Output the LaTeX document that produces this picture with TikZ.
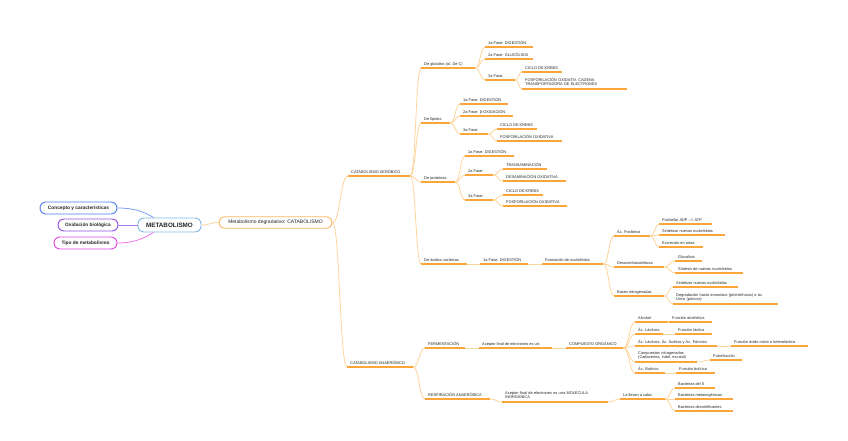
\documentclass[tikz,border=0pt]{standalone}
\usepackage{fontspec}
\setmainfont{Liberation Sans}
\usetikzlibrary{calc}
\definecolor{ulc}{HTML}{FBA53A}
\definecolor{cnc}{HTML}{FDD49A}
\definecolor{txt}{HTML}{262626}
\definecolor{bluec}{HTML}{4F7CF2}
\definecolor{purc}{HTML}{8E4FE6}
\definecolor{magc}{HTML}{E545E5}
\definecolor{rootc}{HTML}{7FB9E6}
\definecolor{catc}{HTML}{FDB65E}
\newcommand\lf{\fontsize{3.9}{4.7}\selectfont}
\tikzset{
 tp/.style={font=\lf, text=txt, anchor=south west, inner xsep=3pt, inner ysep=1.5pt, text depth=1pt},
 ml/.style={align=left, text width=#1pt, text depth=6.2pt},
 wd/.style={execute at begin node={\hbox to \dimexpr#1pt-6pt\relax\bgroup}, execute at end node={\hfil\egroup}},
 uline/.style={draw=ulc, line width=1.1pt},
 conn/.style={draw=cnc, line width=0.8pt, to path={let \p1=(\tikztostart), \p2=(\tikztotarget) in .. controls ({(\x1+\x2)/2},\y1) and ({(\x1+\x2)/2},\y2) .. (\tikztotarget)}},
 pill/.style={draw, line width=0.9pt, fill=white, rounded corners=6pt, text=txt, inner sep=0pt, align=center},
 lnode/.style={pill, minimum height=12pt, font=\fontsize{4.8}{5.5}\selectfont\bfseries},
}
\begin{document}
\begin{tikzpicture}[x=1pt,y=-1pt]
\useasboundingbox (0,0) rectangle (848,440);
% main pills
\node[pill, draw=rootc, minimum width=63pt, minimum height=14pt, font=\fontsize{6.3}{7}\selectfont\bfseries] (root) at (169.5,225) {METABOLISMO};
\node[lnode, draw=bluec, minimum width=77pt] (c1) at (78.5,208) {Concepto y características};
\node[lnode, draw=purc, minimum width=60pt] (c2) at (88,225) {Oxidación biológica};
\node[lnode, draw=magc, minimum width=63pt] (c3) at (85.5,243) {Tipo de metabolismo};
\node[pill, draw=catc, minimum width=113pt, minimum height=11.5pt, font=\fontsize{5}{6}\selectfont] (cat) at (275.5,222.5) {Metabolismo degradativo: CATABOLISMO};
% level B/C
\node[tp,wd=62] (aer) at (348,176) {CATABOLISMO AERÓBICO};
\node[tp,wd=66] (ana) at (347,367) {CATABOLISMO ANAERÓBICO};
\node[tp,wd=54] (glu) at (421,68) {De glúcidos (al. De C)};
\node[tp,wd=29] (lip) at (421,123) {De lípidos};
\node[tp,wd=34] (pro) at (421,182) {De proteínas};
\node[tp,wd=46] (nuc) at (421,264) {De ácidos nucleicos};
% glucidos
\node[tp,wd=48] (g1) at (485,47) {1a Fase: DIGESTIÓN};
\node[tp,wd=48] (g2) at (485,59) {2a Fase: GLUCÓLISIS};
\node[tp,wd=30] (g3) at (485,80) {3a Fase:};
\node[tp,wd=40] (g31) at (522,72) {CICLO DE KREBS};
\node[tp,ml=99] (g32) at (522,89) {FOSFORILACIÓN OXIDATIV. CADENA\\TRANSPORTADORA DE ELECTRONES};
% lipidos
\node[tp,wd=48] (l1) at (460,104) {1a Fase: DIGESTIÓN};
\node[tp,wd=53] (l2) at (460,116) {2a Fase: β-OXIDACIÓN};
\node[tp,wd=28] (l3) at (460,134) {3a Fase:};
\node[tp,wd=40] (l31) at (497,129) {CICLO DE KREBS};
\node[tp,wd=65] (l32) at (497,141) {FOSFORILACIÓN OXIDATIVA};
% proteinas
\node[tp,wd=49] (p1) at (465,156) {1a Fase: DIGESTIÓN};
\node[tp,wd=28] (p2) at (465,175) {2a Fase:};
\node[tp,wd=44] (p21) at (503,169) {TRANSAMINACIÓN};
\node[tp,wd=63] (p22) at (503,181) {DESAMINACIÓN OXIDATIVA};
\node[tp,wd=28] (p3) at (465,200) {3a Fase:};
\node[tp,wd=40] (p31) at (503,195) {CICLO DE KREBS};
\node[tp,wd=64] (p32) at (503,206) {FOSFORILACIÓN OXIDATIVA};
% nucleicos
\node[tp,wd=48] (n1) at (480,264) {1a Fase: DIGESTIÓN};
\node[tp,wd=61] (n2) at (542,264) {Formación de nucleótidos};
\node[tp,wd=36] (nA) at (614,236) {Ác. Fosfórico};
\node[tp,wd=53] (nA1) at (659,224) {Fosforilar ADP -{}-> ATP};
\node[tp,wd=66] (nA2) at (659,235) {Sintetizar nuevos nucleótidos};
\node[tp,wd=44] (nA3) at (659,247) {Excreción en orina};
\node[tp,wd=50] (nB) at (614,267) {Desoxirribosa/ribosa};
\node[tp,wd=27] (nB1) at (675,261) {Glucolisis};
\node[tp,wd=68] (nB2) at (675,273) {Síntesis de nuevos nucleótidos};
\node[tp,wd=50] (nC) at (614,296) {Bases nitrogenadas};
\node[tp,wd=65] (nC1) at (673,287) {Sintetizar nuevos nucleótidos};
\node[tp,ml=99] (nC2) at (673,304) {Degradación hasta amoníaco (pirimidínicas) o ác.\\Úrico (púricos)};
% fermentacion
\node[tp,wd=40] (fer) at (425,348) {FERMENTACIÓN};
\node[tp,wd=73] (fer1) at (479,348) {Aceptor final de electrones es un:};
\node[tp,wd=57] (fer2) at (566,348) {COMPUESTO ORGÁNICO};
\node[tp,wd=33] (f1) at (635,322) {Alcohol};
\node[tp,wd=43] (f1a) at (669,322) {Función alcohólica};
\node[tp,wd=28] (f2) at (635,334) {Ác. Lácticos};
\node[tp,wd=37] (f2a) at (675,334) {Función láctica};
\node[tp,wd=82] (f3) at (635,346) {Ác. Lácticos, Ác. Acético y Ác. Fórmico};
\node[tp,wd=77] (f3a) at (731,346) {Función ácido mixta o heteroláctica};
\node[tp,ml=56] (f4) at (635,362) {Compuestos nitrogenados\\(Cadaverina, indol, escatol)};
\node[tp,wd=32] (f4a) at (710,360) {Putrefacción};
\node[tp,wd=30] (f5) at (635,373) {Ác. Butírico};
\node[tp,wd=39] (f5a) at (676,373) {Función butírica};
% respiracion
\node[tp,wd=65] (res) at (425,399) {RESPIRACIÓN ANAERÓBICA};
\node[tp,ml=100] (res1) at (502,402) {Aceptor final de electrones es una MOLÉCULA\\INORGÁNICA};
\node[tp,wd=45] (res2) at (620,399) {La llevan a cabo:};
\node[tp,wd=40] (r1) at (675,388) {Bacterias del S};
\node[tp,wd=58] (r2) at (675,399) {Bacterias metanogénicas};
\node[tp,wd=58] (r3) at (675,411) {Bacterias desnitrificantes};
% left connectors
\draw[bluec!75, line width=0.8pt] (c1.east) .. controls +(18,0) and +(-8,-5) .. (root.155);
\draw[purc!75, line width=0.8pt] (c2.east) -- (root.west);
\draw[magc!75, line width=0.8pt] (c3.east) .. controls +(18,0) and +(-8,5) .. (root.205);
% orange connectors
\draw[conn] (root.east) to (cat.west);
\draw[conn] (cat.east) to (aer.south west);
\draw[conn] (cat.east) to (ana.south west);
\foreach \a/\b in {aer/glu,aer/lip,aer/pro,aer/nuc,
  glu/g1,glu/g2,glu/g3,g3/g31,g3/g32,
  lip/l1,lip/l2,lip/l3,l3/l31,l3/l32,
  pro/p1,pro/p2,pro/p3,p2/p21,p2/p22,p3/p31,p3/p32,
  nuc/n1,n1/n2,n2/nA,n2/nB,n2/nC,nA/nA1,nA/nA2,nA/nA3,nB/nB1,nB/nB2,nC/nC1,nC/nC2,
  ana/fer,ana/res,fer/fer1,fer1/fer2,fer2/f1,fer2/f2,fer2/f3,fer2/f4,fer2/f5,
  f1/f1a,f2/f2a,f3/f3a,f4/f4a,f5/f5a,
  res/res1,res1/res2,res2/r1,res2/r2,res2/r3}
  \draw[conn] (\a.south east) to (\b.south west);
% underlines
\foreach \n in {aer,ana,glu,lip,pro,nuc,g1,g2,g3,g31,g32,l1,l2,l3,l31,l32,
  p1,p2,p21,p22,p3,p31,p32,n1,n2,nA,nA1,nA2,nA3,nB,nB1,nB2,nC,nC1,nC2,
  fer,fer1,fer2,f1,f1a,f2,f2a,f3,f3a,f4,f4a,f5,f5a,res,res1,res2,r1,r2,r3}
  \draw[uline] (\n.south west) -- (\n.south east);
\end{tikzpicture}
\end{document}
